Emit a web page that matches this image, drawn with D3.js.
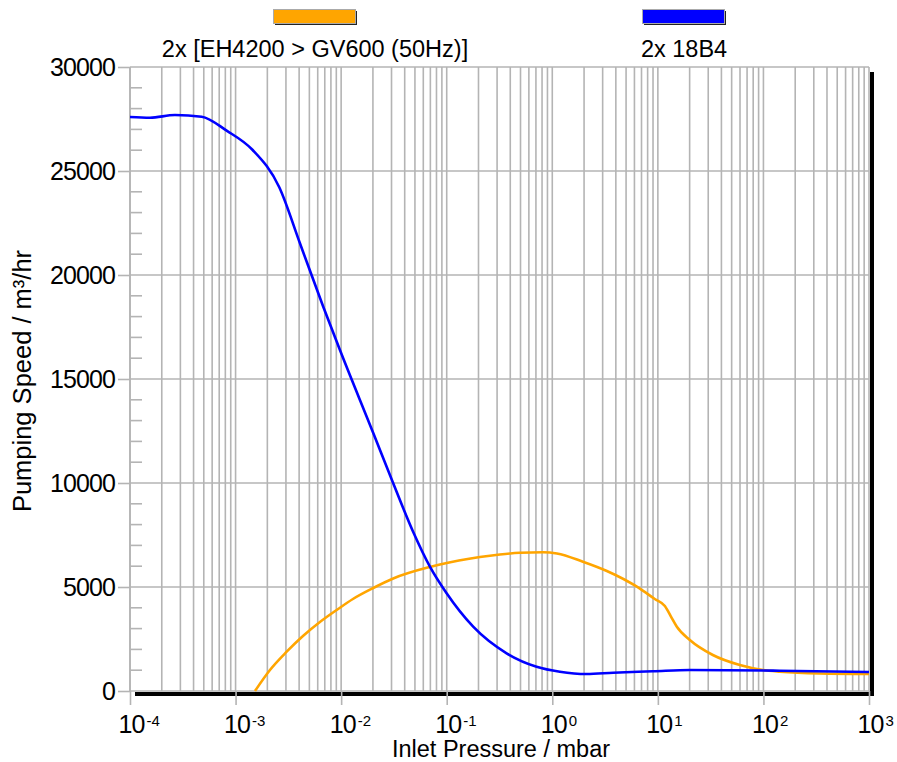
<!DOCTYPE html>
<html>
<head>
<meta charset="utf-8">
<script src="https://cdn.jsdelivr.net/npm/d3@7"></script>
<style>
  body { margin: 0; background: #fff; }
  svg text { font-family: "Liberation Sans", Arial, sans-serif; fill: #000; }
  .grid line { stroke: #b4b4b4; stroke-width: 1.6; }
  .axis path { display: none; }
  .axis line { stroke: #b4b4b4; stroke-width: 1.6; }
  .axis text { font-size: 25px; letter-spacing: -0.9px; }
  .legend text { font-size: 23.5px; }
  .curve { fill: none; stroke-width: 2.6; stroke-linejoin: round; }
</style>
</head>
<body>
<svg id="plate" width="897" height="762"></svg>
<script>
// 2x EH4200 > GV600 (50Hz)
var pressureEH = [1.527e-3, 2.117e-3, 3.048e-3, 4.347e-3, 6.296e-3, 9.066e-3, 1.293e-2, 2.014e-2, 3.113e-2, 6.933e-2, 8.62e-2, 0.2062, 0.3191, 0.4933, 0.8147, 1.106, 1.949, 3.289, 6.326, 9.35, 11.65, 13.27, 15.13, 20.09, 33.18, 59.77, 98.7, 143, 342, 1000];
var speedEH = [0, 1010, 1889, 2644, 3317, 3894, 4423, 4951, 5409, 5962, 6082, 6442, 6563, 6644, 6668, 6611, 6216, 5769, 5014, 4423, 4087, 3591, 3091, 2452, 1731, 1250, 1010, 928, 841, 817];

// 2x 18B4
var pressure18B4 = [1e-4, 1.547e-4, 2.668e-4, 4.775e-4, 8.233e-4, 1.452e-3, 2.594e-3, 4.071e-3, 6.768e-3, 9.741e-3, 2.014e-2, 3.113e-2, 4.817e-2, 6.933e-2, 9.977e-2, 0.1781, 0.3693, 0.7101, 1.18, 2.113, 3.772, 9.026, 20.09, 143, 1000];
var speed18B4 = [27596, 27563, 27692, 27611, 26938, 26010, 24216, 21524, 18476, 16394, 12404, 9986, 7644, 5976, 4697, 3091, 1812, 1168, 928, 817, 880, 947, 1010, 976, 913];

var seriesNames = ['2x [EH4200 > GV600 (50Hz)]', '2x 18B4'];
var seriesColors = ['#ffa500', '#0000ff'];

var xExponents = [-4, -3, -2, -1, 0, 1, 2, 3];
var yMajorTicks = [0, 5000, 10000, 15000, 20000, 25000, 30000];
var yMinorTicks = [1000, 2000, 3000, 4000, 6000, 7000, 8000, 9000, 11000, 12000, 13000, 14000, 16000, 17000, 18000, 19000, 21000, 22000, 23000, 24000, 26000, 27000, 28000, 29000];

var svg = d3.select('#plate');
var margin = {top: 67, left: 130};
var width = 739;
var height = 624;

var x = d3.scaleLog().domain([1e-4, 1e3]).range([margin.left, margin.left + width]);
var y = d3.scaleLinear().domain([0, 30000]).range([margin.top + height, margin.top]);

// minor grid values on the log axis
var xGrid = [];
xExponents.forEach(function (e) {
    for (var k = 1; k <= 9; k++) {
        if (e === 3 && k > 1) break;
        xGrid.push(k * Math.pow(10, e));
    }
});

// shadow of the plot frame
svg.append('rect')
    .attr('x', x(1e-4) + 5).attr('y', y(0) + 1)
    .attr('width', width).attr('height', 4)
    .attr('fill', '#000');
svg.append('rect')
    .attr('x', x(1e3) + 1).attr('y', y(30000) + 5)
    .attr('width', 4).attr('height', height)
    .attr('fill', '#000');

// vertical grid
svg.append('g')
    .attr('class', 'grid')
    .selectAll('line')
    .data(xGrid)
    .join('line')
    .attr('x1', function (d) { return x(d); })
    .attr('x2', function (d) { return x(d); })
    .attr('y1', y(30000))
    .attr('y2', y(0));

// horizontal grid
svg.append('g')
    .attr('class', 'grid')
    .selectAll('line')
    .data(yMajorTicks)
    .join('line')
    .attr('x1', x(1e-4))
    .attr('x2', x(1e3))
    .attr('y1', function (d) { return y(d); })
    .attr('y2', function (d) { return y(d); });

// minor y ticks inside the plot
svg.append('g')
    .attr('class', 'grid')
    .selectAll('line')
    .data(yMinorTicks)
    .join('line')
    .attr('x1', x(1e-4))
    .attr('x2', x(1e-4) + 12)
    .attr('y1', function (d) { return y(d); })
    .attr('y2', function (d) { return y(d); });

// left frame
svg.append('line')
    .attr('x1', x(1e-4)).attr('x2', x(1e-4))
    .attr('y1', y(30000)).attr('y2', y(0))
    .attr('stroke', '#b4b4b4').attr('stroke-width', 1.6);

// Y axis
svg.append('g')
    .attr('class', 'axis')
    .attr('transform', 'translate(' + margin.left + ',0)')
    .call(d3.axisLeft(y).tickValues(yMajorTicks).tickSize(12).tickPadding(3).tickFormat(d3.format('d')));

// X axis, labels as 10 with superscript exponent
var xAxis = svg.append('g')
    .attr('class', 'axis')
    .attr('transform', 'translate(0,' + (margin.top + height) + ')')
    .call(d3.axisBottom(x).tickValues(xExponents.map(function (e) { return Math.pow(10, e); })).tickSize(14).tickFormat(''));

xAxis.selectAll('.tick').each(function (d, i) {
    var t = d3.select(this);
    t.append('text')
        .attr('y', 42)
        .attr('x', 1)
        .attr('text-anchor', 'middle')
        .text('10');
    t.append('text')
        .attr('y', 35)
        .attr('x', 16)
        .attr('text-anchor', 'start')
        .style('font-size', '15px')
        .style('letter-spacing', '0px')
        .text(String(xExponents[i]));
});

// curves
var line = d3.line()
    .curve(d3.curveMonotoneX)
    .x(function (d) { return x(d[0]); })
    .y(function (d) { return y(d[1]); });

svg.append('path')
    .datum(d3.zip(pressureEH, speedEH))
    .attr('class', 'curve')
    .attr('stroke', seriesColors[0])
    .attr('d', line);

svg.append('path')
    .datum(d3.zip(pressure18B4, speed18B4))
    .attr('class', 'curve')
    .attr('stroke', seriesColors[1])
    .attr('d', line);

// axis titles
svg.append('text')
    .attr('x', 501)
    .attr('y', 757)
    .attr('text-anchor', 'middle')
    .style('font-size', '23.5px')
    .text('Inlet Pressure / mbar');

svg.append('text')
    .attr('transform', 'translate(31,381) rotate(-90)')
    .attr('text-anchor', 'middle')
    .style('font-size', '25.5px')
    .text('Pumping Speed / m\u00b3/hr');

// legend
var legendX = [315, 684];
var legend = svg.append('g').attr('class', 'legend');
seriesNames.forEach(function (name, i) {
    var g = legend.append('g').attr('transform', 'translate(' + legendX[i] + ',0)');
    g.append('rect')
        .attr('x', -40).attr('y', 11)
        .attr('width', 82).attr('height', 14)
        .attr('fill', '#222');
    g.append('rect')
        .attr('x', -41.5).attr('y', 9.5)
        .attr('width', 82).attr('height', 14)
        .attr('fill', seriesColors[i])
        .attr('stroke', '#aaa')
        .attr('stroke-width', 1);
    g.append('text')
        .attr('y', 57)
        .attr('text-anchor', 'middle')
        .text(name);
});
</script>
</body>
</html>
